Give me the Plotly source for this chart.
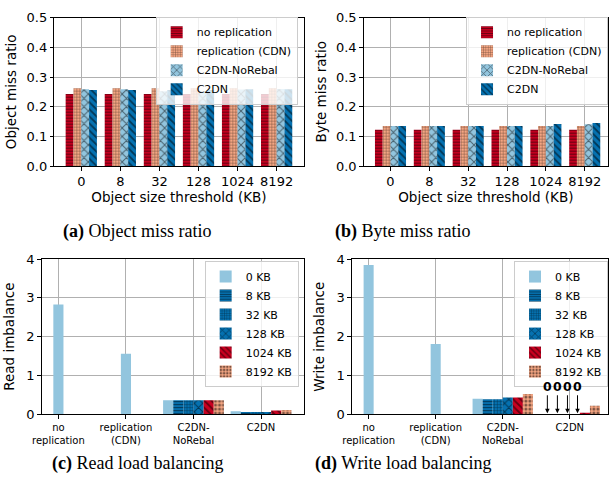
import plotly.graph_objects as go

W, H = 610, 495

# ---------------- data ----------------
thresholds = ["0", "8", "32", "128", "1024", "8192"]
series_names = ["no replication", "replication (CDN)", "C2DN-NoRebal", "C2DN"]

obj_no_rep = [0.243, 0.243, 0.243, 0.243, 0.243, 0.243]
obj_rep = [0.262, 0.262, 0.262, 0.262, 0.262, 0.262]
obj_norebal = [0.259, 0.259, 0.252, 0.252, 0.258, 0.260]
obj_c2dn = [0.256, 0.256, 0.256, 0.256, 0.259, 0.259]

byte_no_rep = [0.122, 0.122, 0.122, 0.122, 0.122, 0.122]
byte_rep = [0.135, 0.135, 0.135, 0.135, 0.135, 0.135]
byte_norebal = [0.135, 0.135, 0.135, 0.135, 0.135, 0.141]
byte_c2dn = [0.135, 0.135, 0.135, 0.135, 0.142, 0.145]

systems = ["no<br>replication", "replication<br>(CDN)", "C2DN-<br>NoRebal", "C2DN"]
size_names = ["0 KB", "8 KB", "32 KB", "128 KB", "1024 KB", "8192 KB"]

read_0kb = [2.83, 1.56, 0.36, 0.08]
read_8kb = [0.0, 0.0, 0.36, 0.06]
read_32kb = [0.0, 0.0, 0.36, 0.06]
read_128kb = [0.0, 0.0, 0.36, 0.06]
read_1024kb = [0.0, 0.0, 0.36, 0.10]
read_8192kb = [0.0, 0.0, 0.36, 0.11]

write_0kb = [3.85, 1.81, 0.40, 0.0]
write_8kb = [0.0, 0.0, 0.39, 0.0]
write_32kb = [0.0, 0.0, 0.39, 0.0]
write_128kb = [0.0, 0.0, 0.43, 0.0]
write_1024kb = [0.0, 0.0, 0.43, 0.04]
write_8192kb = [0.0, 0.0, 0.52, 0.22]

# ---------------- styles ----------------
RED, SALMON, LBLUE, BLUE = "#ca0020", "#f4a582", "#92c5de", "#0571b0"
top_styles = [(RED, "-", 3, 0.38), (SALMON, "+", 3, 0.3), (LBLUE, "x", 6, 0.3),
              (BLUE, "\\", 5, 0.35)]
bottom_styles = [(LBLUE, "", 4, 0.3), (BLUE, "-", 3, 0.38), (BLUE, "+", 3, 0.3),
                 (BLUE, "x", 6, 0.3), (RED, "\\", 5, 0.35), (SALMON, ".", 4, 0.45)]
BAR_W = 0.15
centered_group = [False, False, True, True]
SANS = "DejaVu Sans"
SERIF = "Liberation Serif"


def xd(a, b):
    return [a / W, b / W]


def yd(top, bottom):
    return [1 - bottom / H, 1 - top / H]


def px(x):
    return x / W


def py(y):
    return 1 - y / H


def marker(style):
    c, shape, size, sol = style
    return dict(color=c, line=dict(width=0),
                pattern=dict(shape=shape, fgcolor="black", size=size, solidity=sol))


fig = go.Figure()

top_sets = [
    ("x", "y", "legend", [obj_no_rep, obj_rep, obj_norebal, obj_c2dn]),
    ("x2", "y2", "legend2", [byte_no_rep, byte_rep, byte_norebal, byte_c2dn]),
]
for xa, ya, lg, vals in top_sets:
    for name, v, st in zip(series_names, vals, top_styles):
        fig.add_trace(go.Bar(x=thresholds, y=v, name=name, marker=marker(st),
                             xaxis=xa, yaxis=ya, legend=lg))


def offsets(k):
    return [(k - 3) * BAR_W if c else (k - 0.5) * BAR_W for c in centered_group]


bottom_sets = [
    ("x3", "y3", "legend3", [read_0kb, read_8kb, read_32kb, read_128kb, read_1024kb, read_8192kb]),
    ("x4", "y4", "legend4", [write_0kb, write_8kb, write_32kb, write_128kb, write_1024kb, write_8192kb]),
]
for xa, ya, lg, vals in bottom_sets:
    for k, (name, v, st) in enumerate(zip(size_names, vals, bottom_styles)):
        fig.add_trace(go.Bar(x=systems, y=v, name=name, marker=marker(st),
                             offset=offsets(k), width=BAR_W,
                             xaxis=xa, yaxis=ya, legend=lg))

# arrows marking zero-valued C2DN write bars
g = systems.index("C2DN")
write_all = [write_0kb, write_8kb, write_32kb, write_128kb, write_1024kb, write_8192kb]
annotations = []
for k, v in enumerate(write_all):
    if v[g] == 0:
        annotations.append(dict(
            x=g + offsets(k)[g] + BAR_W / 2 + 0.04, y=0, xref="x4", yref="y4",
            text="<b>0</b>", showarrow=True, ax=0, ay=-28,
            arrowhead=2, arrowsize=0.9, arrowwidth=1, arrowcolor="black",
            standoff=1, font=dict(family=SANS, size=12.5, color="black")))

captions = [
    ("<b>(a)</b> Object miss ratio", 130, 232),
    ("<b>(b)</b> Byte miss ratio", 400, 232),
    ("<b>(c)</b> Read load balancing", 130, 471),
    ("<b>(d)</b> Write load balancing", 400, 471),
]
for t, cx, cy in captions:
    annotations.append(dict(text=t, x=px(cx), y=py(cy), xref="paper", yref="paper",
                            showarrow=False, xanchor="center", yanchor="middle",
                            font=dict(family=SERIF, size=18, color="black")))

axis_common = dict(showline=True, linecolor="black", linewidth=1, mirror=True,
                   ticks="outside", ticklen=3.5, tickcolor="black", tickwidth=1,
                   showgrid=True, gridcolor="#b0b0b0", gridwidth=1, zeroline=False,
                   tickfont=dict(family=SANS, size=13, color="black"))
title_font = dict(family=SANS, size=13.5, color="black")
bottom_tick_font = dict(family=SANS, size=10, color="black")

legend_common = dict(font=dict(family=SANS, size=11, color="black"),
                     bgcolor="rgba(255,255,255,0.8)", bordercolor="#cccccc",
                     borderwidth=1, itemwidth=30, tracegroupgap=0,
                     xanchor="right", yanchor="top")

fig.update_layout(
    width=W, height=H, margin=dict(l=0, r=0, t=0, b=0),
    paper_bgcolor="white", plot_bgcolor="white",
    barmode="group", bargap=0.2, bargroupgap=0,
    font=dict(family=SANS, color="black"),
    annotations=annotations,
    xaxis=dict(axis_common, domain=xd(46, 299), anchor="y", type="category",
               range=[-0.69, 5.69],
               title=dict(text="Object size threshold (KB)", font=title_font, standoff=2)),
    yaxis=dict(axis_common, domain=yd(11, 164), anchor="x", range=[0, 0.5],
               dtick=0.1, tickformat=".1f",
               title=dict(text="Object miss ratio", font=title_font, standoff=6)),
    xaxis2=dict(axis_common, domain=xd(360, 608), anchor="y2", type="category",
                range=[-0.69, 5.6],
                title=dict(text="Object size threshold (KB)", font=title_font, standoff=2)),
    yaxis2=dict(axis_common, domain=yd(11, 164), anchor="x2", range=[0, 0.5],
                dtick=0.1, tickformat=".1f",
                title=dict(text="Byte miss ratio", font=title_font, standoff=6)),
    xaxis3=dict(axis_common, domain=xd(33, 299), anchor="y3", type="category",
                range=[-0.25, 3.63], tickfont=bottom_tick_font),
    yaxis3=dict(axis_common, domain=yd(260, 420), anchor="x3", range=[0, 4], dtick=1,
                title=dict(text="Read imbalance", font=title_font, standoff=8)),
    xaxis4=dict(axis_common, domain=xd(348, 608), anchor="y4", type="category",
                range=[-0.25, 3.57], tickfont=bottom_tick_font),
    yaxis4=dict(axis_common, domain=yd(260, 420), anchor="x4", range=[0, 4], dtick=1,
                title=dict(text="Write imbalance", font=title_font, standoff=8)),
    legend=dict(legend_common, x=px(293), y=py(10)),
    legend2=dict(legend_common, x=px(608), y=py(10)),
    legend3=dict(legend_common, x=px(294), y=py(262)),
    legend4=dict(legend_common, x=px(608), y=py(262)),
)

fig.write_html("out.html",
               config={"displayModeBar": False},
               post_script="document.body.style.margin='0';"
                           "document.body.style.overflow='hidden';")
